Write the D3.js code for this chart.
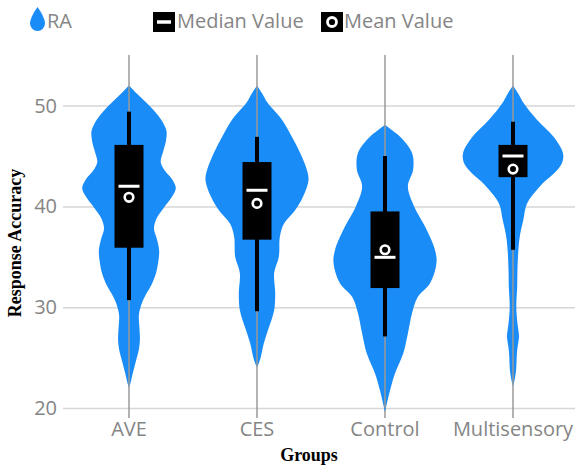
<!DOCTYPE html>
<html>
<head>
<meta charset="utf-8">
<script src="https://cdn.jsdelivr.net/npm/d3@7"></script>
<style>
  body { margin: 0; background: #fff; }
  svg text { font-family: "Open Sans", "Noto Sans", sans-serif; }
</style>
</head>
<body>
<svg id="chart" width="575" height="472"></svg>
<script>
// groups on the x axis
const groups = ["AVE", "CES", "Control", "Multisensory"];
const yTicks = [20, 30, 40, 50];

// box stats
const q1 = [35.9, 36.7, 31.9, 42.9];
const q3 = [46.1, 44.4, 39.5, 46.1];
const whiskerLow = [30.7, 29.6, 27.1, 35.7];
const whiskerHigh = [49.4, 46.9, 45.0, 48.4];
const medians = [42.0, 41.6, 34.95, 45.0];
const means = [40.9, 40.3, 35.7, 43.7];

// density outlines, [value, relative density]
const densAVE = [[52.0,0],[51.2,0.15],[50.3,0.33],[49.4,0.5],[48.6,0.62],[47.5,0.72],[46.5,0.71],[45.5,0.66],[44.4,0.61],[43.6,0.68],[42.6,0.84],[41.8,0.9],[40.9,0.82],[39.8,0.66],[38.8,0.53],[37.8,0.48],[36.7,0.54],[35.6,0.58],[34.4,0.56],[33.4,0.52],[32.2,0.43],[31.2,0.32],[30.3,0.24],[29.2,0.19],[28.0,0.2],[26.8,0.21],[25.8,0.19],[24.6,0.13],[23.4,0.07],[22.5,0.03],[22.0,0]];
const densCES = [[52.0,0],[51.2,0.1],[50.3,0.2],[48.6,0.48],[46.9,0.67],[45.3,0.83],[43.6,0.96],[42.6,0.99],[40.9,0.88],[39.6,0.73],[38.3,0.52],[37.0,0.44],[35.0,0.42],[33.4,0.33],[31.4,0.35],[29.7,0.33],[28.0,0.23],[26.4,0.13],[24.8,0.06],[24.0,0]];
const densControl = [[48.1,0],[47.5,0.15],[46.9,0.29],[45.3,0.52],[43.6,0.54],[42.0,0.44],[40.0,0.56],[38.0,0.77],[35.7,0.96],[34.4,0.99],[32.4,0.87],[31.0,0.63],[29.4,0.52],[27.4,0.44],[25.4,0.35],[23.4,0.19],[21.8,0.1],[19.6,0]];
const densMulti = [[52.0,0],[51.2,0.1],[50.2,0.21],[48.6,0.46],[46.9,0.78],[45.3,0.96],[44.4,0.95],[43.6,0.85],[42.0,0.52],[40.3,0.27],[38.7,0.2],[37.0,0.13],[35.4,0.1],[33.5,0.085],[32.0,0.08],[30.5,0.065],[29.7,0.065],[28.2,0.09],[27.1,0.115],[26.1,0.09],[25.4,0.075],[23.8,0.06],[22.9,0.035],[22.1,0]];
const densities = [densAVE, densCES, densControl, densMulti];

const BLUE = "#1a8cf8";
const GRID = "#d6d6d6";
const TEXT = "#858585";

const svg = d3.select("#chart");

const x = d3.scaleBand().domain(groups).range([65, 577]).padding(0);
const y = d3.scaleLinear().domain([20, 50]).range([408, 105.6]);
const w = d3.scaleLinear().domain([0, 1]).range([0, 52]);
const cx = (g) => x(g) + x.bandwidth() / 2;

// horizontal grid + y labels
const yAxis = svg.append("g")
    .attr("transform", "translate(63,0)")
    .call(d3.axisRight(y).tickValues(yTicks).tickSize(512).tickFormat(d3.format("d")));
yAxis.select(".domain").remove();
yAxis.selectAll(".tick line").attr("stroke", GRID).attr("stroke-width", 1.5);
yAxis.selectAll(".tick text")
    .attr("x", -6).attr("text-anchor", "end")
    .attr("fill", TEXT).style("font-size", "20px");

// x axis ticks + labels
const xAxis = svg.append("g")
    .attr("transform", "translate(0,408)")
    .call(d3.axisBottom(x).tickSize(10).tickPadding(4));
xAxis.select(".domain").remove();
xAxis.selectAll(".tick line").attr("stroke", "#999").attr("stroke-width", 1.5);
xAxis.selectAll(".tick text").attr("fill", TEXT).style("font-size", "20px");

// violins
const area = d3.area()
    .curve(d3.curveCatmullRom)
    .y((d) => y(d[0]));

groups.forEach((g, i) => {
    const c = cx(g);
    svg.append("path")
        .datum(densities[i])
        .attr("fill", BLUE)
        .attr("d", area.x0((d) => c - w(d[1])).x1((d) => c + w(d[1])));
});

// center lines over the violins
svg.append("g").selectAll("line").data(groups).enter().append("line")
    .attr("x1", cx).attr("x2", cx)
    .attr("y1", 55).attr("y2", 408)
    .attr("stroke", "#9a9a9a").attr("stroke-width", 1.5);

const BOX_W = 29;
const boxes = svg.append("g").selectAll("g").data(groups).enter().append("g");
boxes.append("line")
    .attr("x1", cx).attr("x2", cx)
    .attr("y1", (d, i) => y(whiskerHigh[i]))
    .attr("y2", (d, i) => y(whiskerLow[i]))
    .attr("stroke", "#000").attr("stroke-width", 4);
boxes.append("rect")
    .attr("x", (d) => cx(d) - BOX_W / 2)
    .attr("width", BOX_W)
    .attr("y", (d, i) => y(q3[i]))
    .attr("height", (d, i) => y(q1[i]) - y(q3[i]))
    .attr("fill", "#000");
boxes.append("line")
    .attr("x1", (d) => cx(d) - 10.5).attr("x2", (d) => cx(d) + 10.5)
    .attr("y1", (d, i) => y(medians[i])).attr("y2", (d, i) => y(medians[i]))
    .attr("stroke", "#fff").attr("stroke-width", 3);
boxes.append("circle")
    .attr("cx", cx).attr("cy", (d, i) => y(means[i]))
    .attr("r", 4.3)
    .attr("fill", "#000").attr("stroke", "#fff").attr("stroke-width", 2.6);

// legend
const legend = svg.append("g");
legend.append("path")
    .attr("d", "M37.5,7 C37.5,7 30,17 30,23.5 A7.5,7.5 0 0 0 45,23.5 C45,17 37.5,7 37.5,7 Z")
    .attr("fill", BLUE);
legend.append("text").attr("x", 47).attr("y", 28).text("RA")
    .attr("fill", TEXT).style("font-size", "20px");

legend.append("rect").attr("x", 153).attr("y", 12).attr("width", 22).attr("height", 20).attr("fill", "#000");
legend.append("line").attr("x1", 157).attr("x2", 171).attr("y1", 22).attr("y2", 22)
    .attr("stroke", "#fff").attr("stroke-width", 3.5);
legend.append("text").attr("x", 177).attr("y", 28).text("Median Value")
    .attr("fill", TEXT).style("font-size", "20px");

legend.append("rect").attr("x", 321).attr("y", 12).attr("width", 22).attr("height", 20).attr("fill", "#000");
legend.append("circle").attr("cx", 332).attr("cy", 22).attr("r", 4.5)
    .attr("fill", "#000").attr("stroke", "#fff").attr("stroke-width", 2.8);
legend.append("text").attr("x", 344).attr("y", 28).text("Mean Value")
    .attr("fill", TEXT).style("font-size", "20px");

// axis titles
svg.append("text")
    .attr("x", 309).attr("y", 461)
    .attr("text-anchor", "middle")
    .style("font-family", "'Liberation Serif', 'Times New Roman', serif")
    .style("font-weight", "bold").style("font-size", "18px")
    .attr("fill", "#000")
    .text("Groups");
svg.append("text")
    .attr("transform", "translate(21,243) rotate(-90)")
    .attr("text-anchor", "middle")
    .style("font-family", "'Liberation Serif', 'Times New Roman', serif")
    .style("font-weight", "bold").style("font-size", "18px")
    .attr("fill", "#000")
    .text("Response Accuracy");
</script>
</body>
</html>
